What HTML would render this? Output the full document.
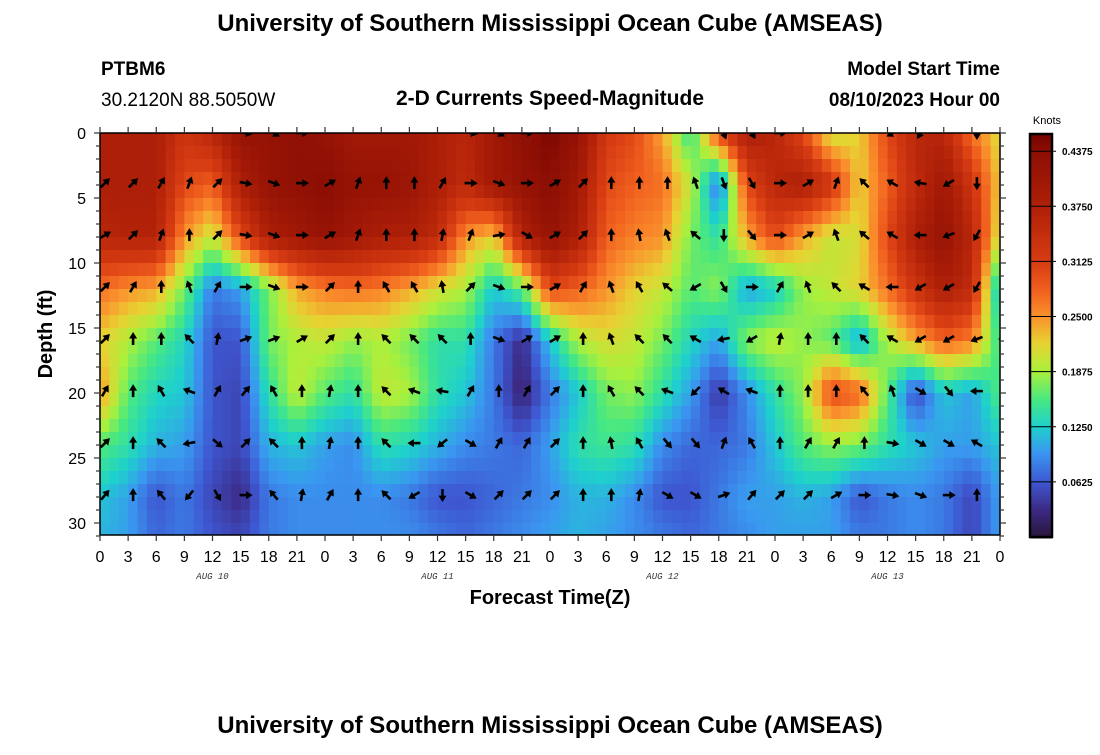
<!DOCTYPE html>
<html><head><meta charset="utf-8">
<style>
body{margin:0;background:#fff;width:1100px;height:750px;overflow:hidden;font-family:"Liberation Sans",Arial,sans-serif;}
svg text{font-family:"Liberation Sans",Arial,sans-serif;}
</style></head>
<body>
<svg id="chart" width="1100" height="750" viewBox="0 0 1100 750" xmlns="http://www.w3.org/2000/svg">
<text x="550" y="31" text-anchor="middle" font-size="24" font-weight="bold">University of Southern Mississippi Ocean Cube (AMSEAS)</text>
<text x="101" y="75" font-size="19" font-weight="bold">PTBM6</text>
<text x="101" y="106" font-size="19">30.2120N  88.5050W</text>
<text x="550" y="105" text-anchor="middle" font-size="21" font-weight="bold">2-D Currents Speed-Magnitude</text>
<text x="1000" y="75" text-anchor="end" font-size="19" font-weight="bold">Model Start Time</text>
<text x="1000" y="106" text-anchor="end" font-size="19" font-weight="bold">08/10/2023 Hour 00</text>
<defs><clipPath id="plotclip"><rect x="100" y="133" width="900" height="402"/></clipPath></defs>
<g id="heat" clip-path="url(#plotclip)"></g>
<g id="arrows" clip-path="url(#plotclip)"></g>
<rect x="100" y="133" width="900" height="402" fill="none" stroke="#000" stroke-width="1.5"/>
<g id="axes"></g>
<text transform="translate(52,334) rotate(-90)" text-anchor="middle" font-size="20" font-weight="bold">Depth (ft)</text>
<text x="550" y="604" text-anchor="middle" font-size="20" font-weight="bold">Forecast Time(Z)</text>
<g id="cbar"></g>
<text x="550" y="733" text-anchor="middle" font-size="24" font-weight="bold">University of Southern Mississippi Ocean Cube (AMSEAS)</text>
</svg>
<script>
const hours = [0,3,6,9,12,15,18,21,24,27,30,33,36,39,42,45,48,51,54,57,60,63,66,69,72,75,78,81,84,87,90,93,96];
const depths = [0,4,8,12,16,20,24,28,31];
const speed0 = [0.38,0.38,0.38,0.33,0.36,0.42,0.42,0.43,0.42,0.40,0.40,0.40,0.38,0.36,0.40,0.43,0.45,0.42,0.32,0.30,0.24,0.14,0.30,0.38,0.36,0.30,0.20,0.22,0.30,0.36,0.36,0.27,0.21];
const speed4 = [0.38,0.38,0.38,0.30,0.28,0.38,0.42,0.43,0.44,0.42,0.42,0.41,0.38,0.35,0.40,0.42,0.44,0.40,0.30,0.28,0.27,0.20,0.07,0.30,0.36,0.38,0.33,0.22,0.28,0.35,0.40,0.33,0.22];
const speed8 = [0.36,0.37,0.37,0.25,0.20,0.30,0.38,0.40,0.42,0.40,0.38,0.38,0.35,0.25,0.22,0.37,0.42,0.38,0.28,0.26,0.25,0.17,0.14,0.24,0.30,0.24,0.20,0.21,0.30,0.38,0.42,0.36,0.20];
const speed12 = [0.27,0.25,0.24,0.17,0.08,0.10,0.17,0.24,0.26,0.27,0.26,0.24,0.21,0.19,0.12,0.16,0.30,0.28,0.25,0.22,0.20,0.16,0.18,0.10,0.12,0.18,0.20,0.22,0.27,0.33,0.38,0.35,0.10];
const speed16 = [0.22,0.19,0.16,0.13,0.06,0.06,0.17,0.19,0.20,0.18,0.19,0.17,0.14,0.14,0.08,0.03,0.12,0.19,0.21,0.20,0.17,0.13,0.10,0.18,0.20,0.18,0.16,0.10,0.19,0.24,0.28,0.26,0.14];
const speed20 = [0.25,0.16,0.13,0.12,0.06,0.05,0.14,0.20,0.16,0.14,0.20,0.19,0.14,0.12,0.08,0.02,0.08,0.12,0.17,0.18,0.14,0.10,0.04,0.09,0.14,0.18,0.30,0.28,0.16,0.05,0.12,0.10,0.16];
const speed24 = [0.16,0.14,0.11,0.10,0.06,0.05,0.11,0.12,0.10,0.09,0.14,0.13,0.11,0.09,0.08,0.07,0.10,0.14,0.15,0.14,0.09,0.07,0.07,0.08,0.12,0.16,0.18,0.17,0.14,0.12,0.10,0.10,0.12];
const speed28 = [0.12,0.10,0.06,0.08,0.05,0.03,0.08,0.09,0.09,0.09,0.09,0.08,0.06,0.06,0.07,0.08,0.09,0.11,0.11,0.09,0.06,0.06,0.08,0.10,0.10,0.11,0.10,0.06,0.08,0.09,0.08,0.05,0.10];
const speed31 = [0.11,0.10,0.07,0.08,0.06,0.05,0.08,0.09,0.09,0.09,0.09,0.09,0.08,0.07,0.08,0.09,0.10,0.11,0.10,0.09,0.08,0.07,0.08,0.09,0.10,0.10,0.10,0.08,0.08,0.09,0.08,0.05,0.10];
const speedRows = [speed0,speed4,speed8,speed12,speed16,speed20,speed24,speed28,speed31];

// arrow directions, degrees clockwise from north; null = not drawn
const arrowDepths = [0,3.85,7.85,11.85,15.85,19.85,23.85,27.85];
const dir0 = [null,null,null,null,null,100,120,90,null,null,null,null,null,100,120,90,null,null,null,null,null,null,160,150,90,null,null,null,-120,-150,null,180,null];
const dir1 = [45,45,30,20,45,100,110,90,60,20,0,0,30,90,110,90,60,45,0,0,0,-20,160,150,90,60,20,-45,-60,-80,-120,180,180];
const dir2 = [60,45,20,0,45,100,110,90,60,20,0,0,10,20,80,120,60,45,0,-10,-20,-50,180,140,90,60,-20,-50,-60,-90,-110,-150,-150];
const dir3 = [45,30,0,-20,30,90,110,90,45,0,-30,-30,-10,45,110,90,60,30,-20,-30,-50,-120,150,90,30,-20,-45,-60,-90,-120,-120,-150,-150];
const dir4 = [45,0,0,-45,10,70,70,60,45,0,-45,-45,-45,0,110,60,60,0,-20,-45,-45,-60,-100,-120,10,0,0,-45,-60,-120,-120,-110,-90];
const dir5 = [30,0,-30,-70,30,40,-30,0,10,0,-45,-70,-80,30,0,30,45,0,-30,-45,-70,-135,-60,-70,0,0,0,-40,-20,120,140,-90,-45];
const dir6 = [45,0,-45,-100,130,45,-45,0,10,0,-45,-90,-130,120,30,30,45,0,-10,-30,140,140,20,-30,0,30,30,0,100,120,120,-60,0];
const dir7 = [40,0,-40,-140,150,90,-40,10,30,0,-45,-120,180,120,45,45,45,0,0,10,120,120,70,40,45,45,60,90,100,110,90,0,0];
const dirRows = [dir0,dir1,dir2,dir3,dir4,dir5,dir6,dir7];

const yTicks = [0,5,10,15,20,25,30];
const xTickLabels = ["0","3","6","9","12","15","18","21","0","3","6","9","12","15","18","21","0","3","6","9","12","15","18","21","0","3","6","9","12","15","18","21","0"];
const dateLabels = ["AUG 10","AUG 11","AUG 12","AUG 13"];
const dateHours = [12,36,60,84];
const cbarTicks = [0.0625,0.1250,0.1875,0.2500,0.3125,0.3750,0.4375];

const X0=100,X1=1000,Y0=133,Y1=535;
const xScale = h => X0 + h*(X1-X0)/96;
const yScale = d => Y0 + d*13;
const VMAX = 0.457;
const cbTop=134, cbBot=537;
const cScale = v => cbBot - v/VMAX*(cbBot-cbTop);
const NS="http://www.w3.org/2000/svg";
const cmap=[[0,[40,22,60]],[0.03,[60,40,130]],[0.0625,[62,88,210]],[0.095,[58,150,240]],[0.125,[30,208,205]],[0.155,[70,232,130]],[0.1875,[170,240,60]],[0.22,[232,210,50]],[0.25,[250,145,45]],[0.28,[240,95,30]],[0.3125,[215,60,18]],[0.375,[175,32,8]],[0.4375,[140,14,4]],[0.46,[115,0,0]]];
function colorOf(v){
 if(v<=cmap[0][0])return `rgb(${cmap[0][1]})`;
 for(let i=1;i<cmap.length;i++){if(v<=cmap[i][0]){const a=cmap[i-1],b=cmap[i];const t=(v-a[0])/(b[0]-a[0]);
  return `rgb(${a[1].map((c,k)=>Math.round(c+(b[1][k]-c)*t)).join(',')})`;}}
 return `rgb(${cmap[cmap.length-1][1]})`;}
function mk(tag,attrs,parent){const e=document.createElementNS(NS,tag);for(const k in attrs)e.setAttribute(k,attrs[k]);parent.appendChild(e);return e;}
function sample(h,d){
 let i=0;while(i<hours.length-2&&hours[i+1]<h)i++;
 let j=0;while(j<depths.length-2&&depths[j+1]<d)j++;
 const tx=Math.max(0,Math.min(1,(h-hours[i])/(hours[i+1]-hours[i])));
 const ty=Math.max(0,Math.min(1,(d-depths[j])/(depths[j+1]-depths[j])));
 const a=speedRows[j][i],b=speedRows[j][i+1],c=speedRows[j+1][i],e=speedRows[j+1][i+1];
 return a*(1-tx)*(1-ty)+b*tx*(1-ty)+c*(1-tx)*ty+e*tx*ty;}
const heat=document.getElementById('heat');
for(let h=0;h<96;h++){for(let d=0;d<31;d++){
 const v=sample(h+0.5,d+0.5);
 const r=mk('rect',{x:xScale(h).toFixed(2),y:yScale(d),width:(xScale(h+1)-xScale(h)+0.6).toFixed(2),height:13.6,fill:colorOf(v)},heat);
 
 
}}
const arrows=document.getElementById('arrows');
dirRows.forEach((row,ri)=>{row.forEach((ang,ci)=>{
 if(ang===null)return;
 const cx=xScale(hours[ci])+5, cy=yScale(arrowDepths[ri]);
 const g=mk('g',{transform:`translate(${cx.toFixed(1)},${cy.toFixed(1)}) rotate(${ang})`},arrows);
 
 
 mk('line',{x1:0,y1:6,x2:0,y2:-1,stroke:'#000','stroke-width':2.6},g);
 mk('polygon',{points:'0,-7 -4,-0.5 4,-0.5',fill:'#000'},g);
});});
const ax=document.getElementById('axes');
for(let d=0;d<=31;d++){
 const y=yScale(d), len=(d%5===0)?6:4;
 mk('line',{x1:X0-len,y1:y,x2:X0,y2:y,stroke:'#333','stroke-width':1.2},ax);
 mk('line',{x1:X1,y1:y,x2:X1+len,y2:y,stroke:'#333','stroke-width':1.2},ax);
}
yTicks.forEach(d=>{const t=mk('text',{x:86,y:yScale(d)+6,'text-anchor':'end','font-size':16},ax);t.textContent=d;
 });
xTickLabels.forEach((lab,i)=>{const x=xScale(hours[i]);
 mk('line',{x1:x,y1:Y1,x2:x,y2:Y1+6,stroke:'#333','stroke-width':1.2},ax);
 mk('line',{x1:x,y1:Y0-6,x2:x,y2:Y0,stroke:'#333','stroke-width':1.2},ax);
 const t=mk('text',{x:x,y:562,'text-anchor':'middle','font-size':16},ax);t.textContent=lab;
 });
dateLabels.forEach((lab,i)=>{const t=mk('text',{x:xScale(dateHours[i]),y:579,'text-anchor':'middle','font-size':9,'font-style':'italic',fill:'#333',style:'font-family:"Liberation Mono",monospace'},ax);t.textContent=lab;
 });
const cb=document.getElementById('cbar');
for(let p=cbTop;p<cbBot;p+=2){const v=(cbBot-p-1)/(cbBot-cbTop)*VMAX;
 const r=mk('rect',{x:1030,y:p,width:22,height:2.5,fill:colorOf(v)},cb);
 }
mk('rect',{x:1030,y:cbTop,width:22,height:cbBot-cbTop,fill:'none',stroke:'#000','stroke-width':2.5},cb);
cbarTicks.forEach(v=>{const y=cScale(v);
 mk('line',{x1:1030,y1:y,x2:1056,y2:y,stroke:'#000','stroke-width':1},cb);
 const t=mk('text',{x:1062,y:y+4,'font-size':10,'font-weight':'bold'},cb);t.textContent=v.toFixed(4);
 });
const kt=mk('text',{x:1047,y:124,'text-anchor':'middle','font-size':11},cb);kt.textContent='Knots';


</script>
</body></html>
